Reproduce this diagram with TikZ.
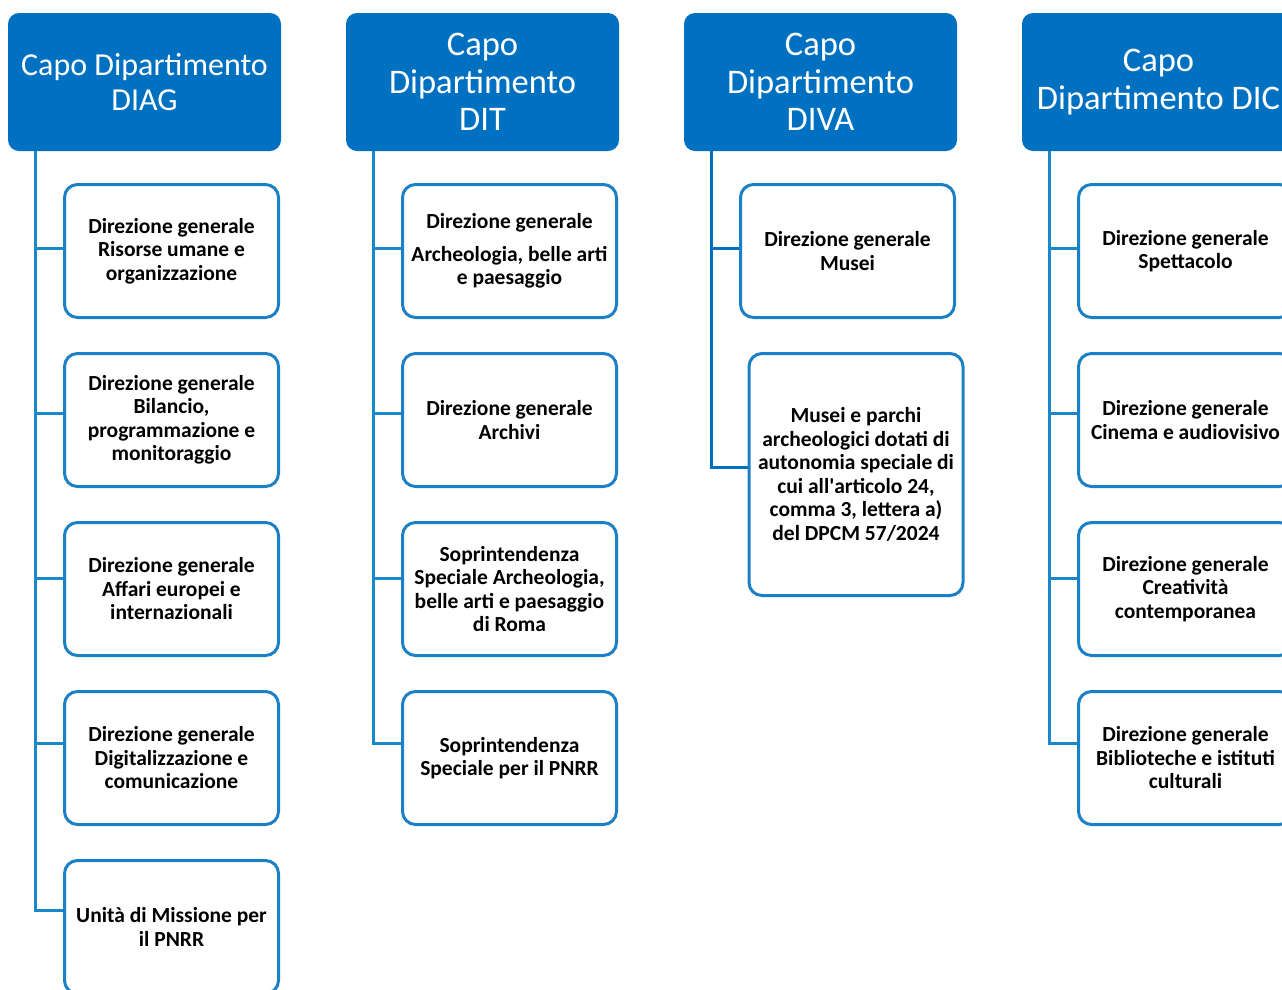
\documentclass[tikz,border=0pt]{standalone}
\usepackage{fontspec}
\setmainfont{Carlito}
\usepackage{xcolor}
\definecolor{capoblue}{RGB}{0,112,192}
\definecolor{boxblue}{RGB}{28,128,198}
\definecolor{linkblue}{RGB}{24,136,200}
\usetikzlibrary{positioning}

\begin{document}
\begin{tikzpicture}[x=1pt,y=-1pt,
    capo/.style={rectangle, rounded corners=11pt, fill=capoblue, text=white, align=center,
        minimum width=273pt, minimum height=138pt, inner sep=0pt,
        font=\fontsize{34.5}{37.5}\selectfont},
    ufficio/.style={draw=boxblue, line width=3pt, rectangle, rounded corners=13pt, fill=white,
        align=center, minimum width=214pt, minimum height=133pt, inner sep=0pt,
        font=\fontsize{21.5}{23.5}\selectfont\bfseries},
    link/.style={draw=linkblue, line width=3pt}]
    \useasboundingbox (0,0) rectangle (1282,989);
    \clip (0,0) rectangle (1282,989);

    % Capi dipartimento
    \node[capo, font=\fontsize{32}{35.5}\selectfont] (diag) at (144.5,82) {Capo Dipartimento\\DIAG};
    \node[capo] (dit) at (482.5,82) {Capo\\Dipartimento\\DIT};
    \node[capo] (diva) at (820.5,82) {Capo\\Dipartimento\\DIVA};
    \node[capo] (dic) at (1158.5,82) {Capo\\Dipartimento DIC};

    % DIAG
    \node[ufficio] (risorse) at (171.5,251) {Direzione generale\\Risorse umane e\\organizzazione};
    \node[ufficio] (bilancio) at (171.5,420) {Direzione generale\\Bilancio,\\programmazione e\\monitoraggio};
    \node[ufficio] (affari) at (171.5,589) {Direzione generale\\Affari europei e\\internazionali};
    \node[ufficio] (digitale) at (171.5,758) {Direzione generale\\Digitalizzazione e\\comunicazione};
    \node[ufficio] (missione) at (171.5,927) {Unità di Missione per\\il PNRR};

    % DIT
    \node[ufficio] (archeo) at (509.5,251) {Direzione generale\\[9pt]Archeologia, belle arti\\e paesaggio};
    \node[ufficio] (archivi) at (509.5,420) {Direzione generale\\Archivi};
    \node[ufficio] (roma) at (509.5,589) {Soprintendenza\\Speciale Archeologia,\\belle arti e paesaggio\\di Roma};
    \node[ufficio] (sspnrr) at (509.5,758) {Soprintendenza\\Speciale per il PNRR};

    % DIVA
    \node[ufficio] (musei) at (847.5,251) {Direzione generale\\Musei};
    \node[ufficio, minimum height=242pt] (parchi) at (856,474.5) {Musei e parchi\\archeologici dotati di\\autonomia speciale di\\cui all\textquotesingle articolo 24,\\comma 3, lettera a)\\del DPCM 57/2024};

    % DIC
    \node[ufficio] (spettacolo) at (1185.5,251) {Direzione generale\\Spettacolo};
    \node[ufficio] (cinema) at (1185.5,420) {Direzione generale\\Cinema e audiovisivo};
    \node[ufficio] (creativita) at (1185.5,589) {Direzione generale\\Creatività\\contemporanea};
    \node[ufficio] (biblioteche) at (1185.5,758) {Direzione generale\\Biblioteche e istituti\\culturali};

    % tronchi verticali
    \coordinate (tdiag) at ([xshift=28pt]diag.south west);
    \coordinate (tdit) at ([xshift=28pt]dit.south west);
    \coordinate (tdiva) at ([xshift=28pt]diva.south west);
    \coordinate (tdic) at ([xshift=28pt]dic.south west);

    \draw[link] (tdiag) |- ([yshift=3pt]risorse.west);
    \draw[link] (tdiag) |- ([yshift=7pt]bilancio.west);
    \draw[link] (tdiag) |- ([yshift=11pt]affari.west);
    \draw[link] (tdiag) |- ([yshift=15pt]digitale.west);
    \draw[link] (tdiag) |- ([yshift=17pt]missione.west);

    \draw[link] (tdit) |- ([yshift=3pt]archeo.west);
    \draw[link] (tdit) |- ([yshift=7pt]archivi.west);
    \draw[link] (tdit) |- ([yshift=11pt]roma.west);
    \draw[link] (tdit) |- ([yshift=15pt]sspnrr.west);

    \draw[link, draw=capoblue] (tdiva) |- ([yshift=3pt]musei.west);
    \draw[link, draw=capoblue] (tdiva) |- ([yshift=7pt]parchi.west);

    \draw[link] (tdic) |- ([yshift=3pt]spettacolo.west);
    \draw[link] (tdic) |- ([yshift=7pt]cinema.west);
    \draw[link] (tdic) |- ([yshift=11pt]creativita.west);
    \draw[link] (tdic) |- ([yshift=15pt]biblioteche.west);
\end{tikzpicture}
\end{document}
